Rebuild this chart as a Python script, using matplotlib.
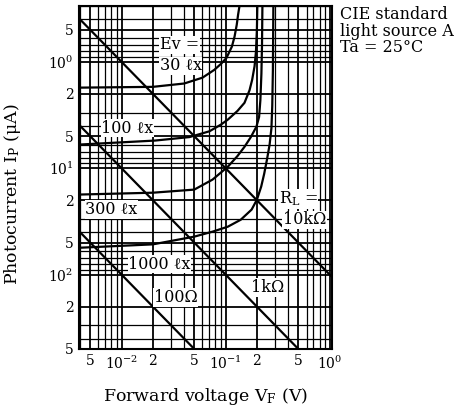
import numpy as np
import matplotlib.pyplot as plt

plt.rcParams['font.family'] = ['DejaVu Serif', 'Liberation Serif', 'DejaVu Sans']
plt.rcParams['mathtext.fontset'] = 'dejavuserif'

# photocurrent curves: forward voltage (V), photocurrent (uA)
v_30 = [0.0039, 0.02, 0.04, 0.06, 0.078, 0.09, 0.102, 0.115, 0.122, 0.128, 0.132, 0.136]
i_30 = [1.75, 1.72, 1.60, 1.41, 1.19, 1.05, 0.92, 0.72, 0.58, 0.45, 0.36, 0.30]

v_100 = [0.0039, 0.021, 0.045, 0.07, 0.09, 0.105, 0.13, 0.152, 0.17, 0.18, 0.19, 0.196, 0.2, 0.202]
i_100 = [6.0, 5.5, 5.1, 4.5, 3.9, 3.5, 2.9, 2.43, 1.85, 1.48, 1.1, 0.8, 0.5, 0.30]

v_300 = [0.0039, 0.02, 0.05, 0.075, 0.105, 0.13, 0.152, 0.175, 0.198, 0.21, 0.216, 0.221, 0.224, 0.226]
i_300 = [17.7, 17.0, 15.9, 12.8, 9.7, 7.7, 6.3, 5.1, 4.07, 3.3, 2.3, 1.3, 0.7, 0.30]

v_1000 = [0.0039, 0.02, 0.05, 0.075, 0.105, 0.14, 0.178, 0.2, 0.22, 0.235, 0.25, 0.265,
          0.276, 0.281, 0.285, 0.288]
i_1000 = [56, 52, 44, 39.5, 35.5, 30.5, 24.5, 19.8, 14.9, 11.3, 8.3, 6.0,
          4.2, 2.6, 1.2, 0.30]

# load lines
loads = [100, 1000, 10000]  # ohm
load_v = [0.0039, 1.05]

x_ticks = [5e-3, 1e-2, 2e-2, 5e-2, 1e-1, 2e-1, 5e-1, 1]
x_labels = ['5', '$10^{-2}$', '2', '5', '$10^{-1}$', '2', '5', '$10^{0}$']
y_ticks = [0.5, 1, 2, 5, 10, 20, 50, 100, 200, 500]
y_labels = ['5', '$10^{0}$', '2', '5', '$10^{1}$', '2', '5', '$10^{2}$', '2', '5']

fig = plt.figure(figsize=(4.7, 4.11), dpi=100)
ax = fig.add_axes([0.168, 0.151, 0.538, 0.834])
ax.set_xscale('log')
ax.set_yscale('log')
ax.set_xlim(0.0039, 1.05)
ax.set_ylim(500, 0.3)

# dense log grid
for dec in [1e-3, 1e-2, 1e-1, 1]:
    for k in range(1, 10):
        v = dec * k
        if 0.0039 < v < 1.05:
            ax.axvline(v, color='black', lw=1.3 if k in (1, 2, 5) else 0.9, zorder=1)
for dec in [0.1, 1, 10, 100]:
    for k in range(1, 10):
        v = dec * k
        if 0.3 < v < 500:
            ax.axhline(v, color='black', lw=1.3 if k in (1, 2, 5) else 0.9, zorder=1)

for r in loads:
    ax.plot(load_v, [v / r * 1e6 for v in load_v], color='black', lw=1.6, zorder=3)

for vs, cs in [(v_30, i_30), (v_100, i_100), (v_300, i_300), (v_1000, i_1000)]:
    ax.plot(vs, cs, color='black', lw=1.6, zorder=3, solid_joinstyle='round')

ax.set_xticks(x_ticks)
ax.set_xticklabels(x_labels)
ax.set_yticks(y_ticks)
ax.set_yticklabels(y_labels)
ax.minorticks_off()
ax.tick_params(length=0, labelsize=10, pad=4)
for s in ax.spines.values():
    s.set_linewidth(1.5)

box = dict(facecolor='white', edgecolor='none', pad=0.5)
tk = dict(fontsize=11.5, ha='center', va='center', zorder=4, bbox=box)
ax.text(0.036, 0.69, 'Ev =', **tk)
ax.text(0.037, 1.09, '30 ℓx', **tk)
ax.text(0.0114, 4.2, '100 ℓx', **tk)
ax.text(0.0080, 24.5, '300 ℓx', **tk)
ax.text(0.0232, 80, '1000 ℓx', **tk)
ax.text(0.033, 164, '100Ω', **tk)
ax.text(0.254, 132, '1kΩ', **tk)
ax.text(0.50, 19.4, '$\\mathregular{R_L}$ =', **tk)
ax.text(0.575, 30.5, '10kΩ', **tk)

fig.text(0.723, 0.985, 'CIE standard\nlight source A\nTa = 25°C', fontsize=11.5,
         ha='left', va='top', linespacing=0.95)

ax.set_xlabel('Forward voltage $\\mathregular{V_F}$ (V)', fontsize=12.5, labelpad=10)
ax.set_ylabel('Photocurrent $\\mathregular{I_P}$ (μA)', fontsize=12.5)
ax.yaxis.set_label_coords(-0.222, 0.45)

fig.savefig('out.png', dpi=100)
